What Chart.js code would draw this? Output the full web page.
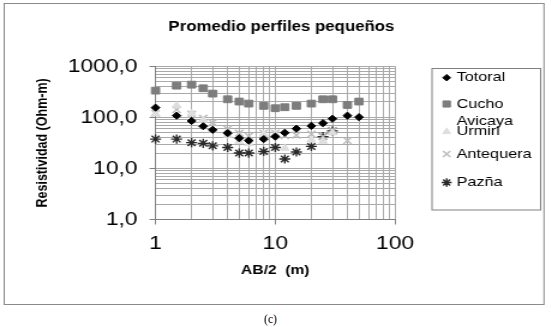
<!DOCTYPE html>
<html><head><meta charset="utf-8">
<script src="https://cdn.jsdelivr.net/npm/chart.js@4/dist/chart.umd.min.js"></script>
<style>
html,body{margin:0;padding:0;background:#fff;width:551px;height:327px;overflow:hidden}
#wrap{position:absolute;left:0;top:0;width:459px;height:310px;transform:scaleX(1.2);transform-origin:0 0}
#cap{position:absolute;left:0;top:311px;width:541px;text-align:center;font:11.5px "Liberation Serif","DejaVu Serif",serif;line-height:16px;color:#000}
</style></head><body>
<div id="wrap"><canvas id="c" width="459" height="310"></canvas></div>
<div id="cap">(c)</div>
<script>
const distances = [1, 1.5, 2, 2.5, 3, 4, 5, 6, 8, 10, 12, 15, 20, 25, 30, 40, 50];
const totoral   = [155, 108, 85, 67, 57, 49, 39, 35, 37.5, 42, 50, 60, 68, 77, 94, 108, 101];
const cucho     = [334, 418, 437, 371, 292, 226, 204, 186, 168, 151, 158, 168, 186, 226, 226, 175, 204];
const avicaya   = [118, 170, 120, 88, 57, 45, 34, 31, 47, 46, 25, null, 36, 34, 50, null, null];
const antequera = [120, 142, 115, 96, 79, 59, 49, 43, 49, 49, 44, 45, 47, 42, 55, 35, null];
const pazna     = [37.5, 37.5, 32, 31, 27.7, 25.7, 20, 20, 21.5, 25.7, 15.3, 21, 27, 42, 54.5, null, null];
const seriesNames = ['Totoral', 'Cucho', 'Avicaya Urmiri', 'Antequera', 'Pazña'];
const yTickValues = [1, 10, 100, 1000];
const yTickLabels = ['1,0', '10,0', '100,0', '1000,0'];
const xTickValues = [1, 10, 100];
const xTickLabels = ['1', '10', '100'];

const FAM = '"Liberation Sans", Arial, sans-serif';
function logGrid(min, max) {
  const out = [];
  for (let d = min; d < max; d *= 10) for (let m = 1; m < 10; m++) out.push(Math.round(m * d * 1000) / 1000);
  out.push(max);
  return out;
}
const xGrid = logGrid(1, 100);
const yGrid = logGrid(1, 1000);
function pts(vals) { return distances.map((x, i) => ({x: x, y: vals[i]})).filter(p => p.y != null); }

const styles = [
  {pointStyle: 'rectRot', radius: 3.6, bg: '#000000', border: '#000000', bw: 1},
  {pointStyle: 'rect', radius: 4.8, bg: '#7d7d7d', border: '#7d7d7d', bw: 1},
  {pointStyle: 'triangle', radius: 4.2, bg: '#dedede', border: '#dedede', bw: 1},
  {pointStyle: 'crossRot', radius: 4.8, bg: '#bdbdbd', border: '#bdbdbd', bw: 1.5},
  {pointStyle: 'star', radius: 4.6, bg: '#2a2a2a', border: '#2a2a2a', bw: 1.4}
];
const seriesData = [totoral, cucho, avicaya, antequera, pazna];
const datasets = seriesData.map((vals, i) => ({
  label: seriesNames[i],
  data: pts(vals),
  showLine: false,
  clip: false,
  pointStyle: styles[i].pointStyle,
  pointRadius: styles[i].radius,
  pointBackgroundColor: styles[i].bg,
  pointBorderColor: styles[i].border,
  pointBorderWidth: styles[i].bw,
  xAxisID: 'x', yAxisID: 'y'
}));

function drawMarker(ctx, st, x, y, scale) {
  ctx.save();
  ctx.fillStyle = st.bg; ctx.strokeStyle = st.border; ctx.lineWidth = st.bw;
  Chart.helpers.drawPoint(ctx, {pointStyle: st.pointStyle, rotation: 0, radius: st.radius * scale, borderWidth: st.bw}, x, y);
  ctx.restore();
}

const frameLegend = {
  id: 'frameLegend',
  beforeDraw(chart) {
    const ctx = chart.ctx;
    ctx.save();
    ctx.fillStyle = '#fff';
    ctx.fillRect(0, 0, chart.width, chart.height);
    ctx.strokeStyle = '#8a8a8a'; ctx.lineWidth = 1;
    ctx.strokeRect(3.5, 3.5, 449.8, 301);
    ctx.restore();
  },
  afterDraw(chart) {
    const ctx = chart.ctx;
    ctx.save();
    const bx = 360, by = 68.5, bw = 90.5, bh = 141.5;
    ctx.fillStyle = '#fff';
    ctx.fillRect(bx, by, bw, bh);
    ctx.strokeStyle = '#808080'; ctx.lineWidth = 1;
    ctx.strokeRect(bx, by, bw, bh);
    const rowY = [77.7, 104, 126.7, 154, 182.5];
    const textX = 380.6, markX = 372.2, maxW = bx + bw - textX - 3;
    ctx.font = '13.5px ' + FAM;
    ctx.fillStyle = '#000';
    ctx.textBaseline = 'middle';
    ctx.textAlign = 'left';
    chart.data.datasets.forEach((ds, i) => {
      const words = ds.label.split(' ');
      const lines = [];
      let cur = '';
      words.forEach(w => {
        const t = cur ? cur + ' ' + w : w;
        if (cur && ctx.measureText(t).width > maxW) { lines.push(cur); cur = w; } else cur = t;
      });
      lines.push(cur);
      const lh = 10;
      const y0 = rowY[i] - (lines.length - 1) * lh / 2;
      ctx.fillStyle = '#000';
      lines.forEach((l, k) => ctx.fillText(l, textX, y0 + k * lh));
      drawMarker(ctx, styles[i], markX, y0 + (lines.length - 1) * lh, 0.9);
    });
    ctx.restore();
  }
};

const gridColor = '#a9a9a9';
new Chart(document.getElementById('c'), {
  type: 'scatter',
  data: {datasets: datasets},
  plugins: [frameLegend],
  options: {
    responsive: false,
    animation: false,
    events: [],
    layout: {padding: {left: 10, right: 0, top: 0, bottom: 0}},
    plugins: {
      legend: {display: false},
      tooltip: {enabled: false},
      title: {display: true, text: 'Promedio perfiles pequeños', color: '#000',
        font: {family: FAM, size: 14, weight: 'bold'}, padding: {top: 19, bottom: 30.5}}
    },
    scales: {
      x: {
        type: 'logarithmic', position: 'bottom', min: 1, max: 100,
        afterBuildTicks: s => { s.ticks = xGrid.map(v => ({value: v})); },
        afterFit: s => { s.height = 310 - 219.5; },
        grid: {color: gridColor, lineWidth: 1, drawTicks: true, tickLength: 5,
          tickColor: c => (c.tick && xTickValues.includes(c.tick.value)) ? '#808080' : 'rgba(0,0,0,0)'},
        border: {color: '#808080', width: 1},
        ticks: {autoSkip: false, maxRotation: 0, padding: 8, color: '#000', font: {family: FAM, size: 19},
          callback: v => { const i = xTickValues.indexOf(v); return i >= 0 ? xTickLabels[i] : ''; }},
        title: {display: true, text: 'AB/2  (m)', color: '#000', font: {family: FAM, size: 13, weight: 'bold'},
          padding: {top: 0, bottom: 32}}
      },
      y: {
        type: 'logarithmic', position: 'left', min: 1, max: 1000,
        afterBuildTicks: s => { s.ticks = yGrid.map(v => ({value: v})); },
        afterFit: s => { s.width = 129.6 - 10; },
        grid: {color: gridColor, lineWidth: 1, drawTicks: true, tickLength: 5,
          tickColor: c => (c.tick && yTickValues.includes(c.tick.value)) ? '#808080' : 'rgba(0,0,0,0)'},
        border: {color: '#808080', width: 1},
        ticks: {autoSkip: false, padding: 10, color: '#000', font: {family: FAM, size: 19},
          callback: v => { const i = yTickValues.indexOf(v); return i >= 0 ? yTickLabels[i] : ''; }},
        title: {display: true, text: 'Resistividad (Ohm-m)', color: '#000', font: {family: FAM, size: 12.5, weight: 'bold'},
          padding: {top: 18.5, bottom: 0}}
      },
      yR: {
        type: 'linear', position: 'right', display: true,
        grid: {display: false, drawTicks: false}, border: {display: false}, ticks: {display: false},
        afterFit: s => { s.width = 459 - 329.2; }
      }
    }
  }
});
</script>
</body></html>
